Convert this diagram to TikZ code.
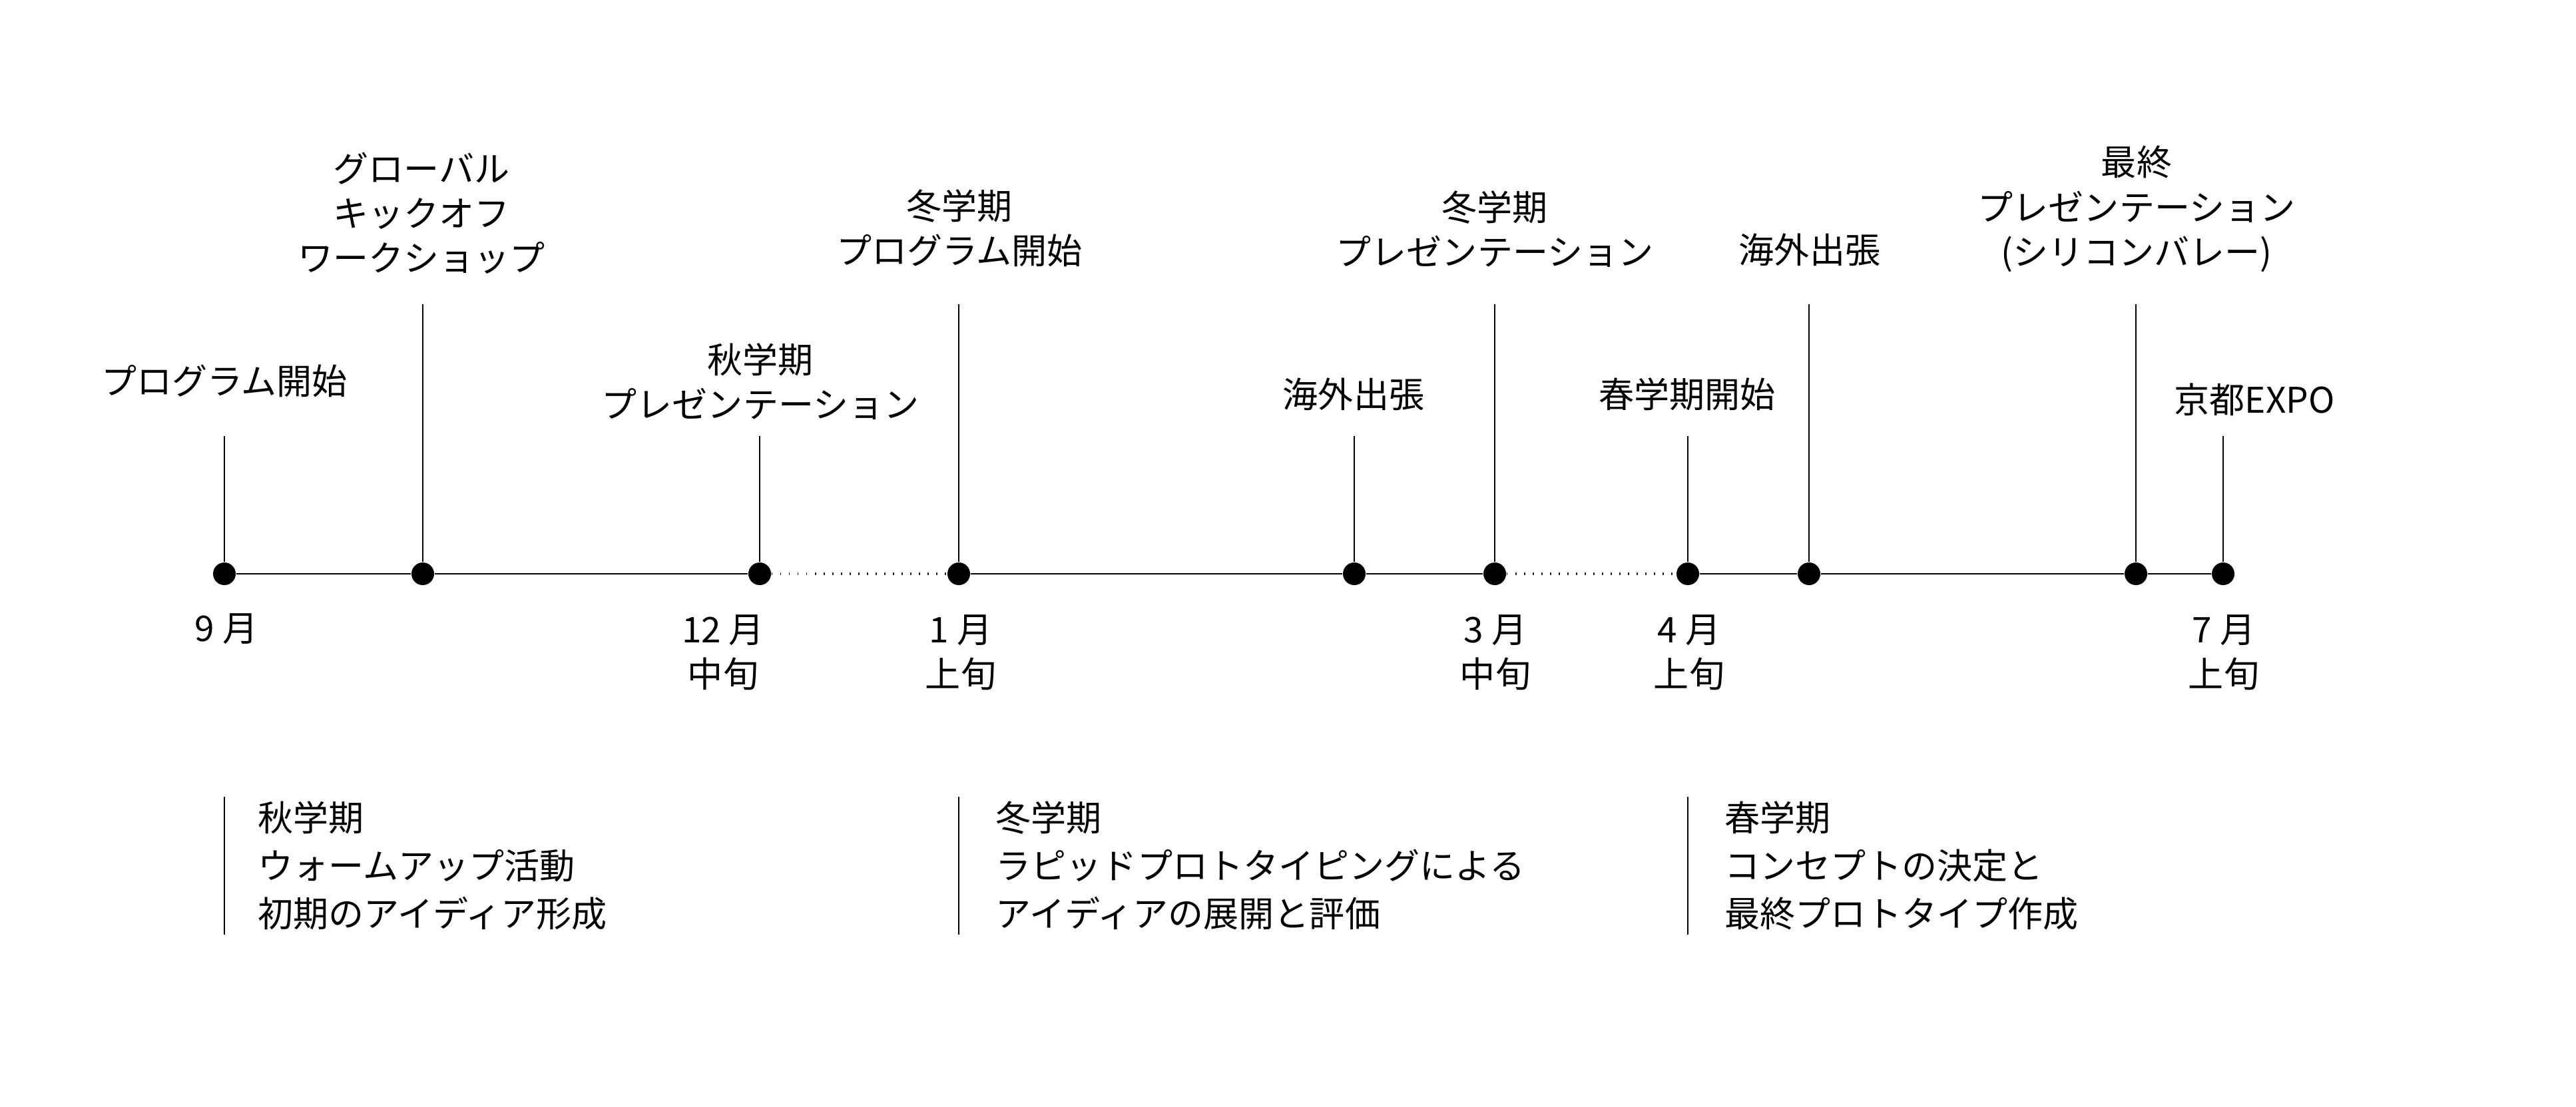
\documentclass[tikz,border=0pt]{standalone}
\usepackage{fontspec}
\setmainfont{Noto Sans CJK JP}
\usetikzlibrary{positioning}

\begin{document}
\begin{tikzpicture}[every node/.style={font=\fontsize{15.1}{19.1}\selectfont,inner sep=0pt,align=center},
				dot/.style={circle,fill=black,minimum size=0.34cm},
				tick/.style={line width=0.5pt},
				gap/.style={line width=0.9pt,black!85,dash pattern=on 0.5pt off 3.2pt},
				note/.style={anchor=west,align=left,font=\fontsize{15.1}{20.5}\selectfont}]
				\useasboundingbox (0,0) rectangle (38.69,16.62);

				\node[dot] (SEP)   at (3.37,8)  {};
				\node[dot] (KICK)  at (6.35,8)  {};
				\node[dot] (DEC)   at (11.41,8) {};
				\node[dot] (JAN)   at (14.40,8) {};
				\node[dot] (TRIPA) at (20.34,8) {};
				\node[dot] (MAR)   at (22.45,8) {};
				\node[dot] (APR)   at (25.35,8) {};
				\node[dot] (TRIPB) at (27.17,8) {};
				\node[dot] (FINAL) at (32.08,8) {};
				\node[dot] (JUL)   at (33.39,8) {};

				\draw[tick] (SEP) -- (KICK) -- (DEC);
				\draw[gap]  (DEC) -- (JAN);
				\draw[tick] (JAN) -- (TRIPA) -- (MAR);
				\draw[gap]  (MAR) -- (APR);
				\draw[tick] (APR) -- (TRIPB) -- (FINAL) -- (JUL);

				\coordinate (SEPtop)   at (3.37,10.07);
				\coordinate (KICKtop)  at (6.35,12.05);
				\coordinate (DECtop)   at (11.41,10.07);
				\coordinate (JANtop)   at (14.40,12.05);
				\coordinate (TRIPAtop) at (20.34,10.07);
				\coordinate (MARtop)   at (22.45,12.05);
				\coordinate (APRtop)   at (25.35,10.07);
				\coordinate (TRIPBtop) at (27.17,12.05);
				\coordinate (FINALtop) at (32.08,12.05);
				\coordinate (JULtop)   at (33.39,10.07);
				\foreach \p in {SEP,KICK,DEC,JAN,TRIPA,MAR,APR,TRIPB,FINAL,JUL}
					\draw[tick] (\p) -- (\p top);

				\node (SEPlabel)   at (3.37,10.90)  {プログラム開始};
				\node (KICKlabel)  at (6.33,13.42)  {グローバル\\キックオフ\\ワークショップ};
				\node (DEClabel)   at (11.42,10.89) {秋学期\\プレゼンテーション};
				\node (JANlabel)   at (14.41,13.19) {冬学期\\プログラム開始};
				\node (TRIPAlabel) at (20.33,10.70) {海外出張};
				\node (MARlabel)   at (22.45,13.18) {冬学期\\プレゼンテーション};
				\node (APRlabel)   at (25.34,10.70) {春学期開始};
				\node (TRIPBlabel) at (27.18,12.87) {海外出張};
				\node (FINALlabel) at (32.09,13.48) {最終\\プレゼンテーション\\(シリコンバレー)};
				\node (JULlabel)   at (33.86,10.62) {京都EXPO};

				\node (SEPdate) at (3.40,7.17)  {9 月};
				\node (DECdate) at (10.86,6.82) {12 月\\中旬};
				\node (JANdate) at (14.43,6.82) {1 月\\上旬};
				\node (MARdate) at (22.46,6.82) {3 月\\中旬};
				\node (APRdate) at (25.37,6.82) {4 月\\上旬};
				\node (JULdate) at (33.40,6.82) {7 月\\上旬};

				\coordinate (AUTtop) at (3.37,4.65);  \coordinate (AUTbot) at (3.37,2.58);
				\coordinate (WINtop) at (14.40,4.65); \coordinate (WINbot) at (14.40,2.58);
				\coordinate (SPRtop) at (25.35,4.65); \coordinate (SPRbot) at (25.35,2.58);
				\draw[tick] (AUTtop) -- (AUTbot) (WINtop) -- (WINbot) (SPRtop) -- (SPRbot);
				\node[note] (AUT) at (3.87,3.62)  {秋学期\\ウォームアップ活動\\初期のアイディア形成};
				\node[note] (WIN) at (14.95,3.62) {冬学期\\ラピッドプロトタイピングによる\\アイディアの展開と評価};
				\node[note] (SPR) at (25.90,3.62) {春学期\\コンセプトの決定と\\最終プロトタイプ作成};
			\end{tikzpicture}
\end{document}
